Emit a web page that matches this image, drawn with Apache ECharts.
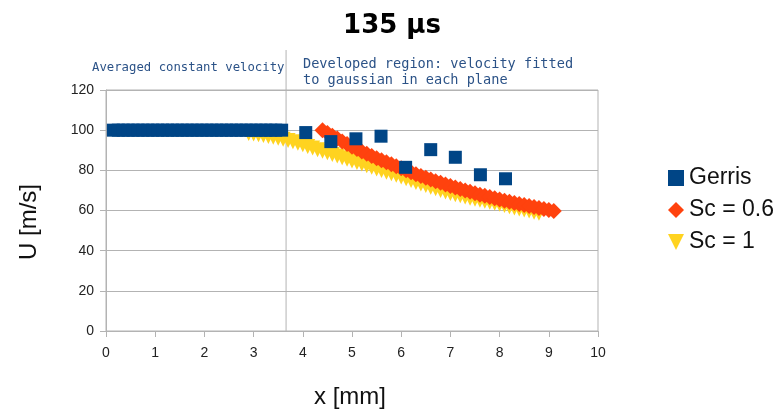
<!DOCTYPE html>
<html>
<head>
<meta charset="utf-8">
<script src="https://cdn.jsdelivr.net/npm/echarts@6/dist/echarts.min.js"></script>
<style>
  html, body { margin: 0; padding: 0; background: #ffffff; }
  #chart { width: 784px; height: 415px; }
</style>
</head>
<body>
<div id="chart"></div>
<script>
// Averaged constant velocity region (dense Gerris samples at 100 m/s)
const gerrisBandX = [0.15, 0.25, 0.35, 0.45, 0.55, 0.65, 0.75, 0.85, 0.95, 1.05,
                     1.15, 1.25, 1.35, 1.45, 1.55, 1.65, 1.75, 1.85, 1.95, 2.05,
                     2.15, 2.25, 2.35, 2.45, 2.55, 2.65, 2.75, 2.85, 2.95, 3.05,
                     3.15, 3.25, 3.35, 3.45, 3.57];
const gerrisBandU = [100, 100, 100, 100, 100, 100, 100, 100, 100, 100,
                     100, 100, 100, 100, 100, 100, 100, 100, 100, 100,
                     100, 100, 100, 100, 100, 100, 100, 100, 100, 100,
                     100, 100, 100, 100, 100];

// Gerris values in the developed region
const gerrisX = [4.06, 4.57, 5.08, 5.59, 6.09, 6.6, 7.1, 7.61, 8.12];
const gerrisU = [98.8, 94.3, 95.7, 97.0, 81.5, 90.3, 86.5, 77.8, 75.8];

// Sc = 0.6
const sc06X = [4.4, 4.5, 4.6, 4.7, 4.8, 4.9, 5.0, 5.1, 5.2, 5.3,
               5.4, 5.5, 5.6, 5.7, 5.8, 5.9, 6.0, 6.1, 6.2, 6.3,
               6.4, 6.5, 6.6, 6.7, 6.8, 6.9, 7.0, 7.1, 7.2, 7.3,
               7.4, 7.5, 7.6, 7.7, 7.8, 7.9, 8.0, 8.1, 8.2, 8.3,
               8.4, 8.5, 8.6, 8.7, 8.8, 8.9, 9.0, 9.1];
const sc06U = [100, 98.6, 97.2, 95.8, 94.4, 93.1, 91.8, 90.6, 89.4, 88.2,
               87.1, 86.0, 85.0, 84.0, 83.0, 82.0, 81.0, 80.0, 79.0, 78.1,
               77.2, 76.3, 75.4, 74.6, 73.8, 73.0, 72.2, 71.4, 70.7, 70.0,
               69.3, 68.6, 67.9, 67.3, 66.7, 66.1, 65.5, 64.9, 64.3, 63.7,
               63.2, 62.7, 62.2, 61.7, 61.2, 60.7, 60.2, 59.7];

// Sc = 1
const sc1X = [2.9, 3.0, 3.1, 3.2, 3.3, 3.4, 3.5, 3.6, 3.7, 3.8,
              3.9, 4.0, 4.1, 4.2, 4.3, 4.4, 4.5, 4.6, 4.7, 4.8,
              4.9, 5.0, 5.1, 5.2, 5.3, 5.4, 5.5, 5.6, 5.7, 5.8,
              5.9, 6.0, 6.1, 6.2, 6.3, 6.4, 6.5, 6.6, 6.7, 6.8,
              6.9, 7.0, 7.1, 7.2, 7.3, 7.4, 7.5, 7.6, 7.7, 7.8,
              7.9, 8.0, 8.1, 8.2, 8.3, 8.4, 8.5, 8.6, 8.7, 8.8];
const sc1U = [98.4, 98.1, 97.7, 97.3, 96.9, 96.5, 96.0, 95.5, 94.9, 94.2,
              93.5, 92.7, 91.9, 91.1, 90.3, 89.5, 88.7, 87.9, 87.1, 86.3,
              85.5, 84.7, 83.9, 83.1, 82.3, 81.5, 80.7, 79.9, 79.1, 78.3,
              77.5, 76.7, 75.8, 74.9, 74.0, 73.2, 72.4, 71.6, 70.8, 70.0,
              69.2, 68.5, 67.9, 67.3, 66.7, 66.1, 65.6, 65.1, 64.6, 64.1,
              63.6, 63.1, 62.5, 61.9, 61.3, 60.8, 60.2, 59.7, 59.1, 58.6];

// Boundary between averaged and developed regions
const dividerX = 3.66;

const xTickValues = [0, 1, 2, 3, 4, 5, 6, 7, 8, 9, 10];
const yTickValues = [0, 20, 40, 60, 80, 100, 120];

const seriesNames = ['Gerris', 'Sc = 0.6', 'Sc = 1'];
const colors = ['#004586', '#ff420e', '#ffd320'];

function pairs(xs, ys) { return xs.map((x, i) => [x, ys[i]]); }

const chart = echarts.init(document.getElementById('chart'), null, { renderer: 'canvas' });
const gridColor = '#b3b3b3';
const sansFont = '"Liberation Sans", Arial, sans-serif';

function scatter(idx, symbol, size, data, z) {
  return {
    name: seriesNames[idx], type: 'scatter', z: z,
    symbol: symbol, symbolSize: size,
    itemStyle: { color: colors[idx], opacity: 1 },
    emphasis: { disabled: true },
    data: data
  };
}

chart.setOption({
  animation: false,
  backgroundColor: '#ffffff',
  title: {
    text: '135 µs',
    left: 'center',
    top: 8,
    textStyle: { fontFamily: '"DejaVu Sans", sans-serif', fontWeight: 'bold', fontSize: 26, color: '#000' }
  },
  legend: {
    orient: 'vertical',
    left: 663,
    top: 161,
    itemWidth: 16,
    itemHeight: 16,
    itemGap: 8,
    data: seriesNames,
    textStyle: { fontFamily: sansFont, fontSize: 23, color: '#111', lineHeight: 24 }
  },
  grid: {
    left: 106, right: 186, top: 90, bottom: 84,
    show: true, borderColor: gridColor, borderWidth: 1
  },
  xAxis: {
    type: 'value', min: 0, max: 10, interval: 1,
    axisLine: { show: true, lineStyle: { color: gridColor } },
    axisTick: { show: true, length: 6, lineStyle: { color: gridColor } },
    splitLine: { show: false },
    axisLabel: {
      margin: 15, fontFamily: sansFont, fontSize: 14, color: '#222',
      formatter: v => (xTickValues.indexOf(v) >= 0 ? String(v) : '')
    }
  },
  yAxis: {
    type: 'value', min: 0, max: 120, interval: 20,
    axisLine: { show: true, lineStyle: { color: gridColor } },
    axisTick: { show: true, length: 6, lineStyle: { color: gridColor } },
    splitLine: { show: true, lineStyle: { color: gridColor } },
    axisLabel: {
      margin: 12, fontFamily: sansFont, fontSize: 14, color: '#222',
      formatter: v => (yTickValues.indexOf(v) >= 0 ? String(v) : '')
    }
  },
  series: [
    scatter(0, 'rect', 13, pairs(gerrisBandX, gerrisBandU).concat(pairs(gerrisX, gerrisU)), 4),
    scatter(1, 'diamond', 16, pairs(sc06X, sc06U), 3),
    scatter(2, 'path://M0,0 L10,0 L5,10 Z', 15, pairs(sc1X, sc1U), 2)
  ]
});

// Divider line and region notes, placed from the axis scale
const dividerPx = chart.convertToPixel({ xAxisIndex: 0 }, dividerX);
const axisBottomPx = chart.convertToPixel({ yAxisIndex: 0 }, 0);
const noteColor = '#2b5287';
const monoFont = '"DejaVu Sans Mono", monospace';

chart.setOption({
  graphic: [
    {
      type: 'line', z: 1,
      shape: { x1: dividerPx, y1: 50, x2: dividerPx, y2: axisBottomPx },
      style: { stroke: gridColor, lineWidth: 1 }
    },
    {
      type: 'text', x: 92, y: 68,
      style: { text: 'Averaged constant velocity', font: '12.3px ' + monoFont, fill: noteColor, textVerticalAlign: 'middle' }
    },
    {
      type: 'text', x: 303, y: 56,
      style: { text: 'Developed region: velocity fitted\nto gaussian in each plane', font: '13.6px ' + monoFont, fill: noteColor, lineHeight: 16 }
    },
    {
      type: 'text', x: 350, y: 397,
      style: { text: 'x [mm]', font: '24px ' + sansFont, fill: '#111', textAlign: 'center', textVerticalAlign: 'middle' }
    },
    {
      type: 'text', x: 29, y: 222, rotation: Math.PI / 2,
      style: { text: 'U [m/s]', font: '24px ' + sansFont, fill: '#111', textAlign: 'center', textVerticalAlign: 'middle' }
    }
  ]
});
</script>
</body>
</html>
